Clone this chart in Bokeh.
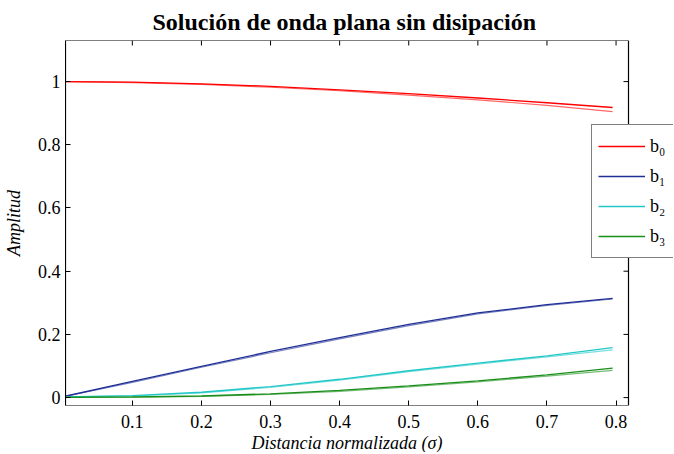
from bokeh.plotting import figure
from bokeh.models import (FixedTicker, NumeralTickFormatter, Legend, LegendItem, Range1d, Title)
from bokeh.embed import file_html
from bokeh.resources import INLINE

# Data
sigma = [0.0, 0.1, 0.2, 0.3, 0.4, 0.5, 0.6, 0.7, 0.795]
b0_a = [1.000, 0.998, 0.993, 0.985, 0.974, 0.962, 0.948, 0.933, 0.918]
b0_b = [1.000, 0.997, 0.991, 0.982, 0.971, 0.957, 0.942, 0.925, 0.905]
b1_a = [0.003, 0.051, 0.099, 0.146, 0.190, 0.232, 0.268, 0.294, 0.314]
b1_b = [0.003, 0.048, 0.096, 0.142, 0.186, 0.228, 0.265, 0.292, 0.312]
b2_a = [0.002, 0.006, 0.017, 0.035, 0.058, 0.085, 0.109, 0.132, 0.158]
b2_b = [0.002, 0.005, 0.015, 0.032, 0.055, 0.082, 0.106, 0.129, 0.151]
b3_a = [0.001, 0.002, 0.005, 0.012, 0.023, 0.037, 0.053, 0.072, 0.093]
b3_b = [0.001, 0.001, 0.004, 0.010, 0.020, 0.034, 0.050, 0.068, 0.086]

series_labels = ["b\u2080", "b\u2081", "b\u2082", "b\u2083"]
colors = ["#ff0000", "#1f2f96", "#22c8c8", "#1a8f1a"]

x_ticks = [0.1, 0.2, 0.3, 0.4, 0.5, 0.6, 0.7, 0.8]
y_ticks = [0, 0.2, 0.4, 0.6, 0.8, 1]

TITLE = "Soluci\u00f3n de onda plana sin disipaci\u00f3n"
XLABEL = "Distancia normalizada (\u03c3)"
YLABEL = "Amplitud"

SERIF = "Liberation Serif"

# axes box limits
X_LO, X_HI = 0.0033, 0.818
Y_LO, Y_HI = -0.025, 1.13

BOX_W, BOX_H = 563, 365
EXTRA_R = 45                      # frame extends past the box to the canvas edge
px_per_x = BOX_W / (X_HI - X_LO)
px_per_y = BOX_H / (Y_HI - Y_LO)
x_frame_hi = X_HI + EXTRA_R / px_per_x

p = figure(frame_width=BOX_W + EXTRA_R, frame_height=BOX_H,
           min_border_left=0, min_border_right=0,
           min_border_top=0, min_border_bottom=0,
           x_range=Range1d(X_LO, x_frame_hi), y_range=Range1d(Y_LO, Y_HI),
           output_backend="svg", toolbar_location=None,
           background_fill_color="white", border_fill_color="white")

p.title.text = TITLE
p.title.align = "left"
p.title.offset = 87
p.title.text_font = SERIF
p.title.text_font_size = "24px"
p.title.text_font_style = "bold"
p.title.text_color = "black"
p.title.standoff = 12

p.xgrid.visible = False
p.ygrid.visible = False
p.outline_line_color = None

for ax, ticks in ((p.xaxis[0], x_ticks), (p.yaxis[0], y_ticks)):
    ax.ticker = FixedTicker(ticks=ticks)
    ax.formatter = NumeralTickFormatter(format="0.[0]")
    ax.major_tick_in = 5
    ax.major_tick_out = 0
    ax.minor_tick_line_color = None
    ax.major_tick_line_color = "black"
    ax.major_label_text_font = SERIF
    ax.major_label_text_color = "black"
    ax.major_label_text_font_size = "18px"
    ax.axis_label_text_font = SERIF
    ax.axis_label_text_font_style = "italic"
    ax.axis_label_text_font_size = "18px"
    ax.axis_label_text_color = "black"

p.xaxis[0].axis_line_color = None
p.yaxis[0].axis_line_color = "black"
p.xaxis[0].major_label_standoff = 9
p.yaxis[0].major_label_standoff = 5
p.yaxis[0].axis_label = YLABEL
p.yaxis[0].axis_label_standoff = 11

# x-axis label, placed under the visible box (centred on it, not on the frame)
xlab = Title(text=XLABEL, align="left", offset=186, text_font=SERIF,
             text_font_size="18px", text_font_style="italic",
             text_color="black", standoff=0)
p.add_layout(xlab, "below")

# axes box
p.quad(left=[X_LO], right=[X_HI], bottom=[Y_LO], top=[Y_HI],
       fill_color=None, line_color="black", line_width=1.2)
# inward tick marks on the top and right sides of the box
tick_dx = 5 / px_per_x
tick_dy = 5 / px_per_y
p.segment(x0=x_ticks, x1=x_ticks, y0=[Y_HI] * len(x_ticks),
          y1=[Y_HI - tick_dy] * len(x_ticks), line_color="black", line_width=1)
p.segment(x0=[X_HI] * len(y_ticks), x1=[X_HI - tick_dx] * len(y_ticks),
          y0=y_ticks, y1=y_ticks, line_color="black", line_width=1)

pairs = [(b0_a, b0_b), (b1_a, b1_b), (b2_a, b2_b), (b3_a, b3_b)]
items = []
for (ya, yb), c, lab in zip(pairs, colors, series_labels):
    r1 = p.line(sigma, ya, line_color=c, line_width=1.3)
    p.line(sigma, yb, line_color=c, line_width=1.2, line_alpha=0.6)
    items.append(LegendItem(label=lab, renderers=[r1]))

legend = Legend(items=items, location=(526, 147),
                glyph_width=47, glyph_height=30, label_height=30,
                spacing=0, padding=6, margin=0, label_standoff=5,
                label_text_font=SERIF, label_text_font_size="18px",
                label_text_color="black",
                border_line_color="black", border_line_width=1.2,
                background_fill_color="white", background_fill_alpha=1)
p.add_layout(legend, "center")

open("out.html", "w").write(file_html(p, INLINE))
